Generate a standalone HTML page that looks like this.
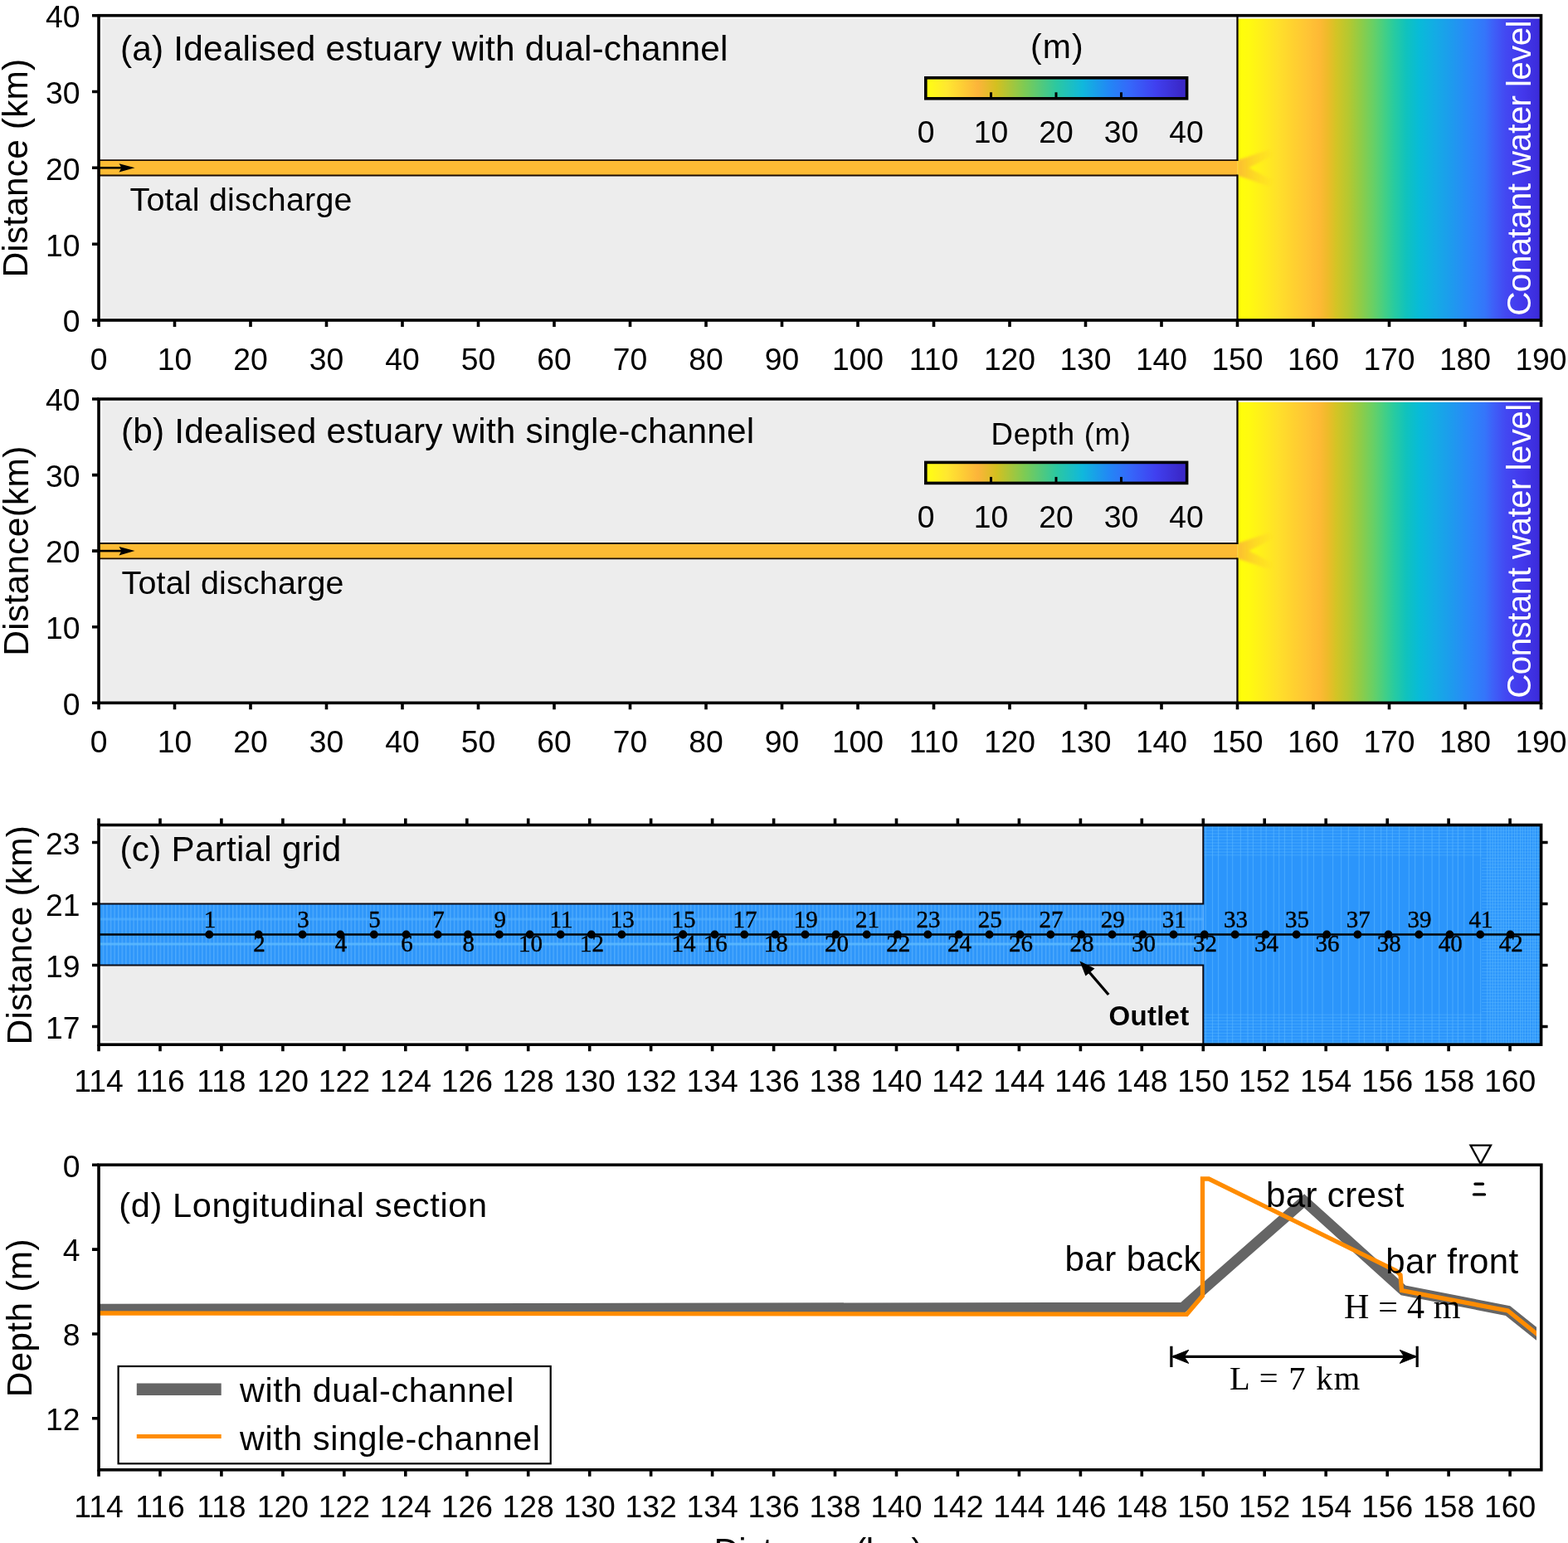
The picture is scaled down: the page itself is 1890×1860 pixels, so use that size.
<!DOCTYPE html><html><head><meta charset="utf-8"><title>Idealised estuary figure</title><style>html,body{margin:0;padding:0;background:#fff;overflow:hidden}svg{display:block}</style></head><body>
<svg width="1890" height="1860" viewBox="0 0 1890 1860">
<defs>
<linearGradient id="sea" x1="0" x2="1" y1="0" y2="0"><stop offset="0.000" stop-color="#ffff08"/><stop offset="0.040" stop-color="#fffa10"/><stop offset="0.134" stop-color="#ffe02a"/><stop offset="0.188" stop-color="#ffd030"/><stop offset="0.229" stop-color="#ffc535"/><stop offset="0.270" stop-color="#feb935"/><stop offset="0.297" stop-color="#eebb2a"/><stop offset="0.325" stop-color="#d4c425"/><stop offset="0.366" stop-color="#b5c830"/><stop offset="0.407" stop-color="#8ecc48"/><stop offset="0.447" stop-color="#68d065"/><stop offset="0.488" stop-color="#40cf88"/><stop offset="0.516" stop-color="#28cba0"/><stop offset="0.557" stop-color="#10c2be"/><stop offset="0.598" stop-color="#08bbd8"/><stop offset="0.652" stop-color="#14abe5"/><stop offset="0.707" stop-color="#1e9aee"/><stop offset="0.761" stop-color="#2a88f8"/><stop offset="0.816" stop-color="#3575fa"/><stop offset="0.843" stop-color="#3e60f8"/><stop offset="0.884" stop-color="#4348f2"/><stop offset="0.939" stop-color="#4338ec"/><stop offset="1.000" stop-color="#3a2ad8"/></linearGradient>
<linearGradient id="cmap" x1="0" x2="1" y1="0" y2="0"><stop offset="0.000" stop-color="#ffff10"/><stop offset="0.080" stop-color="#ffe830"/><stop offset="0.200" stop-color="#fcb43a"/><stop offset="0.270" stop-color="#d4c020"/><stop offset="0.380" stop-color="#7ccb55"/><stop offset="0.500" stop-color="#2cc8a0"/><stop offset="0.600" stop-color="#10b8dc"/><stop offset="0.700" stop-color="#2288f5"/><stop offset="0.780" stop-color="#3568fa"/><stop offset="0.880" stop-color="#4040f0"/><stop offset="0.980" stop-color="#3a28c8"/><stop offset="1.000" stop-color="#3a28c8"/></linearGradient>
<linearGradient id="jet" x1="0" x2="1" y1="0" y2="0">
<stop offset="0" stop-color="#fbb836" stop-opacity="0.95"/><stop offset="1" stop-color="#fcc030" stop-opacity="0"/>
</linearGradient>
<filter id="blur2" x="-20%" y="-20%" width="140%" height="140%"><feGaussianBlur stdDeviation="1.6"/></filter>
<pattern id="gridch" patternUnits="userSpaceOnUse" width="4.6" height="74" x="119" y="1089.5">
<rect width="4.6" height="74" fill="#2e96fa"/>
<rect width="1.4" height="74" fill="#4eaafc"/>
<rect y="17" width="4.6" height="3" fill="#55b2ff" opacity="0.6"/>
<rect y="47" width="4.6" height="3" fill="#5cbaff" opacity="0.8"/>
</pattern>
<pattern id="gridsea" patternUnits="userSpaceOnUse" width="23" height="20" x="1450" y="994.5">
<rect width="23" height="20" fill="#2a94fb"/>
<rect width="1.6" height="20" fill="#4aaafc" opacity="0.7"/>
<rect x="11" width="1.2" height="20" fill="#45a5fc" opacity="0.5"/>
<rect y="8" width="23" height="1.2" fill="#50acff" opacity="0.5"/>
</pattern>
</defs>
<rect width="1890" height="1860" fill="#fff"/>
<rect x="123.3" y="22.5" width="1368.2" height="363.5" fill="#ededed"/>
<rect x="1491.5" y="22.5" width="366.0" height="363.5" fill="url(#sea)"/>
<path d="M1491.5,193.2 L1529.5,180.3 L1535.5,186.7 L1505.5,202.3 L1535.5,218.0 L1529.5,224.4 L1491.5,211.5 Z" fill="url(#jet)" filter="url(#blur2)"/>
<rect x="119" y="193.2" width="1372.5" height="18.4" fill="#fdbb34"/>
<path d="M119,193.2 H1491.5 M119,211.5 H1491.5" stroke="#1a0d05" stroke-width="1.8" fill="none"/>
<path d="M1491.5,194.1 V18.7 M1491.5,210.6 V386.0" stroke="#100808" stroke-width="2.3" fill="none"/>
<path d="M119,202.3 H150" stroke="#000" stroke-width="2.6"/>
<path d="M162.5,202.3 L143.5,197.2 L146.5,202.3 L143.5,207.5 Z" fill="#000"/>
<text x="145.00" y="72.50" font-size="42.4" font-family="'Liberation Sans', Arial, sans-serif" font-weight="normal" fill="#000" textLength="732.37" lengthAdjust="spacing">(a) Idealised estuary with dual-channel</text>
<text x="156.50" y="253.90" font-size="39.4" font-family="'Liberation Sans', Arial, sans-serif" font-weight="normal" fill="#000" textLength="267.95" lengthAdjust="spacing">Total discharge</text>
<rect x="1115.8" y="93.8" width="314.8" height="25.0" fill="url(#cmap)" stroke="#000" stroke-width="3.6"/>
<text x="1116.0" y="172.0" font-size="37.3" text-anchor="middle" font-family="'Liberation Sans', Arial, sans-serif" fill="#000" font-weight="normal" >0</text>
<path d="M1194.5,118.8 v-7.5" stroke="#000" stroke-width="3"/>
<text x="1194.5" y="172.0" font-size="37.3" text-anchor="middle" font-family="'Liberation Sans', Arial, sans-serif" fill="#000" font-weight="normal" >10</text>
<path d="M1273.0,118.8 v-7.5" stroke="#000" stroke-width="3"/>
<text x="1273.0" y="172.0" font-size="37.3" text-anchor="middle" font-family="'Liberation Sans', Arial, sans-serif" fill="#000" font-weight="normal" >20</text>
<path d="M1351.5,118.8 v-7.5" stroke="#000" stroke-width="3"/>
<text x="1351.5" y="172.0" font-size="37.3" text-anchor="middle" font-family="'Liberation Sans', Arial, sans-serif" fill="#000" font-weight="normal" >30</text>
<text x="1430.0" y="172.0" font-size="37.3" text-anchor="middle" font-family="'Liberation Sans', Arial, sans-serif" fill="#000" font-weight="normal" >40</text>
<text x="1242.00" y="69.50" font-size="41" font-family="'Liberation Sans', Arial, sans-serif" font-weight="normal" fill="#000" textLength="63.77" lengthAdjust="spacing">(m)</text>
<text transform="translate(1845.30,380.70) rotate(-90)" x="0" y="0" font-size="40.5" font-family="'Liberation Sans', Arial, sans-serif" font-weight="normal" fill="#fff" textLength="356.22" lengthAdjust="spacing">Conatant water level</text>
<rect x="119" y="18.7" width="1738.5" height="367.3" fill="none" stroke="#000" stroke-width="3.6"/>
<path d="M119,386.0 h-8 M119,294.2 h-8 M119,202.3 h-8 M119,110.5 h-8 M119,18.7 h-8 M119.0,386.0 v8 M210.5,386.0 v8 M302.0,386.0 v8 M393.5,386.0 v8 M485.0,386.0 v8 M576.5,386.0 v8 M668.0,386.0 v8 M759.5,386.0 v8 M851.0,386.0 v8 M942.5,386.0 v8 M1034.0,386.0 v8 M1125.5,386.0 v8 M1217.0,386.0 v8 M1308.5,386.0 v8 M1400.0,386.0 v8 M1491.5,386.0 v8 M1583.0,386.0 v8 M1674.5,386.0 v8 M1766.0,386.0 v8 M1857.5,386.0 v8 " stroke="#000" stroke-width="3.6"/>
<text x="96.5" y="400.3" font-size="37.3" text-anchor="end" font-family="'Liberation Sans', Arial, sans-serif" fill="#000" font-weight="normal" >0</text>
<text x="96.5" y="308.5" font-size="37.3" text-anchor="end" font-family="'Liberation Sans', Arial, sans-serif" fill="#000" font-weight="normal" >10</text>
<text x="96.5" y="216.7" font-size="37.3" text-anchor="end" font-family="'Liberation Sans', Arial, sans-serif" fill="#000" font-weight="normal" >20</text>
<text x="96.5" y="124.8" font-size="37.3" text-anchor="end" font-family="'Liberation Sans', Arial, sans-serif" fill="#000" font-weight="normal" >30</text>
<text x="96.5" y="33.0" font-size="37.3" text-anchor="end" font-family="'Liberation Sans', Arial, sans-serif" fill="#000" font-weight="normal" >40</text>
<text x="119.0" y="446.0" font-size="37.3" text-anchor="middle" font-family="'Liberation Sans', Arial, sans-serif" fill="#000" font-weight="normal" >0</text>
<text x="210.5" y="446.0" font-size="37.3" text-anchor="middle" font-family="'Liberation Sans', Arial, sans-serif" fill="#000" font-weight="normal" >10</text>
<text x="302.0" y="446.0" font-size="37.3" text-anchor="middle" font-family="'Liberation Sans', Arial, sans-serif" fill="#000" font-weight="normal" >20</text>
<text x="393.5" y="446.0" font-size="37.3" text-anchor="middle" font-family="'Liberation Sans', Arial, sans-serif" fill="#000" font-weight="normal" >30</text>
<text x="485.0" y="446.0" font-size="37.3" text-anchor="middle" font-family="'Liberation Sans', Arial, sans-serif" fill="#000" font-weight="normal" >40</text>
<text x="576.5" y="446.0" font-size="37.3" text-anchor="middle" font-family="'Liberation Sans', Arial, sans-serif" fill="#000" font-weight="normal" >50</text>
<text x="668.0" y="446.0" font-size="37.3" text-anchor="middle" font-family="'Liberation Sans', Arial, sans-serif" fill="#000" font-weight="normal" >60</text>
<text x="759.5" y="446.0" font-size="37.3" text-anchor="middle" font-family="'Liberation Sans', Arial, sans-serif" fill="#000" font-weight="normal" >70</text>
<text x="851.0" y="446.0" font-size="37.3" text-anchor="middle" font-family="'Liberation Sans', Arial, sans-serif" fill="#000" font-weight="normal" >80</text>
<text x="942.5" y="446.0" font-size="37.3" text-anchor="middle" font-family="'Liberation Sans', Arial, sans-serif" fill="#000" font-weight="normal" >90</text>
<text x="1034.0" y="446.0" font-size="37.3" text-anchor="middle" font-family="'Liberation Sans', Arial, sans-serif" fill="#000" font-weight="normal" >100</text>
<text x="1125.5" y="446.0" font-size="37.3" text-anchor="middle" font-family="'Liberation Sans', Arial, sans-serif" fill="#000" font-weight="normal" >110</text>
<text x="1217.0" y="446.0" font-size="37.3" text-anchor="middle" font-family="'Liberation Sans', Arial, sans-serif" fill="#000" font-weight="normal" >120</text>
<text x="1308.5" y="446.0" font-size="37.3" text-anchor="middle" font-family="'Liberation Sans', Arial, sans-serif" fill="#000" font-weight="normal" >130</text>
<text x="1400.0" y="446.0" font-size="37.3" text-anchor="middle" font-family="'Liberation Sans', Arial, sans-serif" fill="#000" font-weight="normal" >140</text>
<text x="1491.5" y="446.0" font-size="37.3" text-anchor="middle" font-family="'Liberation Sans', Arial, sans-serif" fill="#000" font-weight="normal" >150</text>
<text x="1583.0" y="446.0" font-size="37.3" text-anchor="middle" font-family="'Liberation Sans', Arial, sans-serif" fill="#000" font-weight="normal" >160</text>
<text x="1674.5" y="446.0" font-size="37.3" text-anchor="middle" font-family="'Liberation Sans', Arial, sans-serif" fill="#000" font-weight="normal" >170</text>
<text x="1766.0" y="446.0" font-size="37.3" text-anchor="middle" font-family="'Liberation Sans', Arial, sans-serif" fill="#000" font-weight="normal" >180</text>
<text x="1857.5" y="446.0" font-size="37.3" text-anchor="middle" font-family="'Liberation Sans', Arial, sans-serif" fill="#000" font-weight="normal" >190</text>
<text transform="translate(33.00,334.50) rotate(-90)" x="0" y="0" font-size="42.5" font-family="'Liberation Sans', Arial, sans-serif" font-weight="normal" fill="#000" textLength="263.73" lengthAdjust="spacing">Distance (km)</text>
<rect x="123.3" y="484.8" width="1368.2" height="362.5" fill="#ededed"/>
<rect x="1491.5" y="484.8" width="366.0" height="362.5" fill="url(#sea)"/>
<path d="M1491.5,655.0 L1529.5,642.2 L1535.5,648.6 L1505.5,664.1 L1535.5,679.7 L1529.5,686.1 L1491.5,673.3 Z" fill="url(#jet)" filter="url(#blur2)"/>
<rect x="119" y="655.0" width="1372.5" height="18.3" fill="#fdbb34"/>
<path d="M119,655.0 H1491.5 M119,673.3 H1491.5" stroke="#1a0d05" stroke-width="1.8" fill="none"/>
<path d="M1491.5,655.9 V481.0 M1491.5,672.4 V847.3" stroke="#100808" stroke-width="2.3" fill="none"/>
<path d="M119,664.1 H150" stroke="#000" stroke-width="2.6"/>
<path d="M162.5,664.1 L143.5,658.9 L146.5,664.1 L143.5,669.4 Z" fill="#000"/>
<text x="146.00" y="534.40" font-size="42.4" font-family="'Liberation Sans', Arial, sans-serif" font-weight="normal" fill="#000" textLength="763.08" lengthAdjust="spacing">(b) Idealised estuary with single-channel</text>
<text x="146.50" y="716.00" font-size="39.4" font-family="'Liberation Sans', Arial, sans-serif" font-weight="normal" fill="#000" textLength="267.95" lengthAdjust="spacing">Total discharge</text>
<rect x="1115.8" y="557.4" width="314.8" height="25.0" fill="url(#cmap)" stroke="#000" stroke-width="3.6"/>
<text x="1116.0" y="635.6" font-size="37.3" text-anchor="middle" font-family="'Liberation Sans', Arial, sans-serif" fill="#000" font-weight="normal" >0</text>
<path d="M1194.5,582.4 v-7.5" stroke="#000" stroke-width="3"/>
<text x="1194.5" y="635.6" font-size="37.3" text-anchor="middle" font-family="'Liberation Sans', Arial, sans-serif" fill="#000" font-weight="normal" >10</text>
<path d="M1273.0,582.4 v-7.5" stroke="#000" stroke-width="3"/>
<text x="1273.0" y="635.6" font-size="37.3" text-anchor="middle" font-family="'Liberation Sans', Arial, sans-serif" fill="#000" font-weight="normal" >20</text>
<path d="M1351.5,582.4 v-7.5" stroke="#000" stroke-width="3"/>
<text x="1351.5" y="635.6" font-size="37.3" text-anchor="middle" font-family="'Liberation Sans', Arial, sans-serif" fill="#000" font-weight="normal" >30</text>
<text x="1430.0" y="635.6" font-size="37.3" text-anchor="middle" font-family="'Liberation Sans', Arial, sans-serif" fill="#000" font-weight="normal" >40</text>
<text x="1194.50" y="535.50" font-size="36.6" font-family="'Liberation Sans', Arial, sans-serif" font-weight="normal" fill="#000" textLength="168.51" lengthAdjust="spacing">Depth (m)</text>
<text transform="translate(1845.30,841.80) rotate(-90)" x="0" y="0" font-size="40.5" font-family="'Liberation Sans', Arial, sans-serif" font-weight="normal" fill="#fff" textLength="355.04" lengthAdjust="spacing">Constant water level</text>
<rect x="119" y="481.0" width="1738.5" height="366.3" fill="none" stroke="#000" stroke-width="3.6"/>
<path d="M119,847.3 h-8 M119,755.7 h-8 M119,664.1 h-8 M119,572.6 h-8 M119,481.0 h-8 M119.0,847.3 v8 M210.5,847.3 v8 M302.0,847.3 v8 M393.5,847.3 v8 M485.0,847.3 v8 M576.5,847.3 v8 M668.0,847.3 v8 M759.5,847.3 v8 M851.0,847.3 v8 M942.5,847.3 v8 M1034.0,847.3 v8 M1125.5,847.3 v8 M1217.0,847.3 v8 M1308.5,847.3 v8 M1400.0,847.3 v8 M1491.5,847.3 v8 M1583.0,847.3 v8 M1674.5,847.3 v8 M1766.0,847.3 v8 M1857.5,847.3 v8 " stroke="#000" stroke-width="3.6"/>
<text x="96.5" y="861.6" font-size="37.3" text-anchor="end" font-family="'Liberation Sans', Arial, sans-serif" fill="#000" font-weight="normal" >0</text>
<text x="96.5" y="770.0" font-size="37.3" text-anchor="end" font-family="'Liberation Sans', Arial, sans-serif" fill="#000" font-weight="normal" >10</text>
<text x="96.5" y="678.4" font-size="37.3" text-anchor="end" font-family="'Liberation Sans', Arial, sans-serif" fill="#000" font-weight="normal" >20</text>
<text x="96.5" y="586.9" font-size="37.3" text-anchor="end" font-family="'Liberation Sans', Arial, sans-serif" fill="#000" font-weight="normal" >30</text>
<text x="96.5" y="495.3" font-size="37.3" text-anchor="end" font-family="'Liberation Sans', Arial, sans-serif" fill="#000" font-weight="normal" >40</text>
<text x="119.0" y="907.3" font-size="37.3" text-anchor="middle" font-family="'Liberation Sans', Arial, sans-serif" fill="#000" font-weight="normal" >0</text>
<text x="210.5" y="907.3" font-size="37.3" text-anchor="middle" font-family="'Liberation Sans', Arial, sans-serif" fill="#000" font-weight="normal" >10</text>
<text x="302.0" y="907.3" font-size="37.3" text-anchor="middle" font-family="'Liberation Sans', Arial, sans-serif" fill="#000" font-weight="normal" >20</text>
<text x="393.5" y="907.3" font-size="37.3" text-anchor="middle" font-family="'Liberation Sans', Arial, sans-serif" fill="#000" font-weight="normal" >30</text>
<text x="485.0" y="907.3" font-size="37.3" text-anchor="middle" font-family="'Liberation Sans', Arial, sans-serif" fill="#000" font-weight="normal" >40</text>
<text x="576.5" y="907.3" font-size="37.3" text-anchor="middle" font-family="'Liberation Sans', Arial, sans-serif" fill="#000" font-weight="normal" >50</text>
<text x="668.0" y="907.3" font-size="37.3" text-anchor="middle" font-family="'Liberation Sans', Arial, sans-serif" fill="#000" font-weight="normal" >60</text>
<text x="759.5" y="907.3" font-size="37.3" text-anchor="middle" font-family="'Liberation Sans', Arial, sans-serif" fill="#000" font-weight="normal" >70</text>
<text x="851.0" y="907.3" font-size="37.3" text-anchor="middle" font-family="'Liberation Sans', Arial, sans-serif" fill="#000" font-weight="normal" >80</text>
<text x="942.5" y="907.3" font-size="37.3" text-anchor="middle" font-family="'Liberation Sans', Arial, sans-serif" fill="#000" font-weight="normal" >90</text>
<text x="1034.0" y="907.3" font-size="37.3" text-anchor="middle" font-family="'Liberation Sans', Arial, sans-serif" fill="#000" font-weight="normal" >100</text>
<text x="1125.5" y="907.3" font-size="37.3" text-anchor="middle" font-family="'Liberation Sans', Arial, sans-serif" fill="#000" font-weight="normal" >110</text>
<text x="1217.0" y="907.3" font-size="37.3" text-anchor="middle" font-family="'Liberation Sans', Arial, sans-serif" fill="#000" font-weight="normal" >120</text>
<text x="1308.5" y="907.3" font-size="37.3" text-anchor="middle" font-family="'Liberation Sans', Arial, sans-serif" fill="#000" font-weight="normal" >130</text>
<text x="1400.0" y="907.3" font-size="37.3" text-anchor="middle" font-family="'Liberation Sans', Arial, sans-serif" fill="#000" font-weight="normal" >140</text>
<text x="1491.5" y="907.3" font-size="37.3" text-anchor="middle" font-family="'Liberation Sans', Arial, sans-serif" fill="#000" font-weight="normal" >150</text>
<text x="1583.0" y="907.3" font-size="37.3" text-anchor="middle" font-family="'Liberation Sans', Arial, sans-serif" fill="#000" font-weight="normal" >160</text>
<text x="1674.5" y="907.3" font-size="37.3" text-anchor="middle" font-family="'Liberation Sans', Arial, sans-serif" fill="#000" font-weight="normal" >170</text>
<text x="1766.0" y="907.3" font-size="37.3" text-anchor="middle" font-family="'Liberation Sans', Arial, sans-serif" fill="#000" font-weight="normal" >180</text>
<text x="1857.5" y="907.3" font-size="37.3" text-anchor="middle" font-family="'Liberation Sans', Arial, sans-serif" fill="#000" font-weight="normal" >190</text>
<text transform="translate(34.00,790.70) rotate(-90)" x="0" y="0" font-size="42.5" font-family="'Liberation Sans', Arial, sans-serif" font-weight="normal" fill="#000" textLength="253.11" lengthAdjust="spacing">Distance(km)</text>
<rect x="123.5" y="998.9" width="1326.8" height="256.3" fill="#ededed"/>
<rect x="1450.3" y="994.5" width="407.3" height="264.70000000000005" fill="#2b95fb"/>
<path d="M1453.3,994.5 V1259.2 M1461.5,994.5 V1259.2 M1468.6,994.5 V1259.2 M1479.2,994.5 V1259.2 M1485.7,994.5 V1259.2 M1495.4,994.5 V1259.2 M1504.0,994.5 V1259.2 M1510.4,994.5 V1259.2 M1519.9,994.5 V1259.2 M1526.2,994.5 V1259.2 M1535.2,994.5 V1259.2 M1541.7,994.5 V1259.2 M1548.4,994.5 V1259.2 M1557.3,994.5 V1259.2 M1569.1,994.5 V1259.2 M1576.0,994.5 V1259.2 M1583.5,994.5 V1259.2 M1593.9,994.5 V1259.2 M1606.6,994.5 V1259.2 M1616.6,994.5 V1259.2 M1625.4,994.5 V1259.2 M1638.2,994.5 V1259.2 M1644.5,994.5 V1259.2 M1656.6,994.5 V1259.2 M1664.6,994.5 V1259.2 M1671.6,994.5 V1259.2 M1678.4,994.5 V1259.2 M1686.6,994.5 V1259.2 M1698.3,994.5 V1259.2 M1705.6,994.5 V1259.2 M1715.6,994.5 V1259.2 M1726.1,994.5 V1259.2 M1734.7,994.5 V1259.2 M1744.5,994.5 V1259.2 M1751.0,994.5 V1259.2 M1757.4,994.5 V1259.2 M1764.8,994.5 V1259.2 M1775.6,994.5 V1259.2 M1784.6,994.5 V1259.2 M1792.8,994.5 V1259.2 M1796.1,994.5 V1259.2 M1799.2,994.5 V1259.2 M1802.2,994.5 V1259.2 M1805.8,994.5 V1259.2 M1809.2,994.5 V1259.2 M1812.1,994.5 V1259.2 M1815.4,994.5 V1259.2 M1818.6,994.5 V1259.2 M1822.3,994.5 V1259.2 M1825.7,994.5 V1259.2 M1828.7,994.5 V1259.2 M1832.5,994.5 V1259.2 M1835.2,994.5 V1259.2 M1838.3,994.5 V1259.2 M1841.8,994.5 V1259.2 M1844.6,994.5 V1259.2 M1847.8,994.5 V1259.2 M1850.4,994.5 V1259.2 M1853.8,994.5 V1259.2 " stroke="#5cb8ff" stroke-width="1.1" opacity="0.55"/>
<path d="M1450.3,997.5 H1857.6 M1450.3,1001.2 H1857.6 M1450.3,1004.9 H1857.6 M1450.3,1008.6 H1857.6 M1450.3,1012.3 H1857.6 M1450.3,1016.0 H1857.6 M1450.3,1019.7 H1857.6 M1450.3,1023.4 H1857.6 M1450.3,1027.1 H1857.6 M1450.3,1030.8 H1857.6 M1786,1034.5 H1857.6 M1786,1038.2 H1857.6 M1786,1041.9 H1857.6 M1786,1045.6 H1857.6 M1786,1049.3 H1857.6 M1786,1053.0 H1857.6 M1786,1056.7 H1857.6 M1786,1060.4 H1857.6 M1786,1064.1 H1857.6 M1786,1067.8 H1857.6 M1786,1071.5 H1857.6 M1786,1075.2 H1857.6 M1786,1078.9 H1857.6 M1786,1082.6 H1857.6 M1786,1086.3 H1857.6 M1786,1090.0 H1857.6 M1786,1093.7 H1857.6 M1786,1097.4 H1857.6 M1786,1101.1 H1857.6 M1786,1104.8 H1857.6 M1786,1108.5 H1857.6 M1786,1112.2 H1857.6 M1786,1115.9 H1857.6 M1786,1119.6 H1857.6 M1786,1123.3 H1857.6 M1786,1127.0 H1857.6 M1786,1130.7 H1857.6 M1786,1134.4 H1857.6 M1786,1138.1 H1857.6 M1786,1141.8 H1857.6 M1786,1145.5 H1857.6 M1786,1149.2 H1857.6 M1786,1152.9 H1857.6 M1786,1156.6 H1857.6 M1786,1160.3 H1857.6 M1786,1164.0 H1857.6 M1786,1167.7 H1857.6 M1786,1171.4 H1857.6 M1786,1175.1 H1857.6 M1786,1178.8 H1857.6 M1786,1182.5 H1857.6 M1786,1186.2 H1857.6 M1786,1189.9 H1857.6 M1786,1193.6 H1857.6 M1786,1197.3 H1857.6 M1786,1201.0 H1857.6 M1786,1204.7 H1857.6 M1786,1208.4 H1857.6 M1786,1212.1 H1857.6 M1786,1215.8 H1857.6 M1786,1219.5 H1857.6 M1450.3,1223.2 H1857.6 M1450.3,1226.9 H1857.6 M1450.3,1230.6 H1857.6 M1450.3,1234.3 H1857.6 M1450.3,1238.0 H1857.6 M1450.3,1241.7 H1857.6 M1450.3,1245.4 H1857.6 M1450.3,1249.1 H1857.6 M1450.3,1252.8 H1857.6 M1450.3,1256.5 H1857.6 " stroke="#60bcff" stroke-width="1" opacity="0.45"/>
<rect x="119" y="1089.5" width="1331.3" height="74.0" fill="url(#gridch)"/>
<path d="M119,1089.5 H1450.3 V994.5 M119,1163.5 H1450.3 V1259.2" stroke="#0a0a14" stroke-width="2" fill="none"/>
<path d="M119,1126.5 H1857.6" stroke="#000" stroke-width="2.6"/>
<g fill="#000"><circle cx="252.2" cy="1126.5" r="4.9"/><circle cx="311.7" cy="1126.5" r="4.9"/><circle cx="364.6" cy="1126.5" r="4.9"/><circle cx="410.2" cy="1126.5" r="4.9"/><circle cx="450.8" cy="1126.5" r="4.9"/><circle cx="489.6" cy="1126.5" r="4.9"/><circle cx="527.6" cy="1126.5" r="4.9"/><circle cx="564.0" cy="1126.5" r="4.9"/><circle cx="601.9" cy="1126.5" r="4.9"/><circle cx="638.6" cy="1126.5" r="4.9"/><circle cx="675.7" cy="1126.5" r="4.9"/><circle cx="712.8" cy="1126.5" r="4.9"/><circle cx="749.4" cy="1126.5" r="4.9"/><circle cx="823.2" cy="1126.5" r="4.9"/><circle cx="823.2" cy="1126.5" r="4.9"/><circle cx="861.5" cy="1126.5" r="4.9"/><circle cx="897.2" cy="1126.5" r="4.9"/><circle cx="934.4" cy="1126.5" r="4.9"/><circle cx="970.5" cy="1126.5" r="4.9"/><circle cx="1007.6" cy="1126.5" r="4.9"/><circle cx="1044.7" cy="1126.5" r="4.9"/><circle cx="1081.9" cy="1126.5" r="4.9"/><circle cx="1118.3" cy="1126.5" r="4.9"/><circle cx="1155.8" cy="1126.5" r="4.9"/><circle cx="1192.5" cy="1126.5" r="4.9"/><circle cx="1229.6" cy="1126.5" r="4.9"/><circle cx="1266.3" cy="1126.5" r="4.9"/><circle cx="1303.3" cy="1126.5" r="4.9"/><circle cx="1340.5" cy="1126.5" r="4.9"/><circle cx="1377.6" cy="1126.5" r="4.9"/><circle cx="1414.5" cy="1126.5" r="4.9"/><circle cx="1451.8" cy="1126.5" r="4.9"/><circle cx="1488.7" cy="1126.5" r="4.9"/><circle cx="1525.7" cy="1126.5" r="4.9"/><circle cx="1562.6" cy="1126.5" r="4.9"/><circle cx="1599.2" cy="1126.5" r="4.9"/><circle cx="1636.4" cy="1126.5" r="4.9"/><circle cx="1673.5" cy="1126.5" r="4.9"/><circle cx="1710.3" cy="1126.5" r="4.9"/><circle cx="1747.4" cy="1126.5" r="4.9"/><circle cx="1784.2" cy="1126.5" r="4.9"/><circle cx="1820.5" cy="1126.5" r="4.9"/></g>
<g font-size="29" text-anchor="middle" font-family="'Liberation Serif', 'Times New Roman', serif" fill="#000" stroke="#000" stroke-width="0.4"><text x="253.0" y="1118">1</text><text x="312.5" y="1147">2</text><text x="365.4" y="1118">3</text><text x="411.0" y="1147">4</text><text x="451.6" y="1118">5</text><text x="490.4" y="1147">6</text><text x="528.4" y="1118">7</text><text x="564.8" y="1147">8</text><text x="602.7" y="1118">9</text><text x="639.4" y="1147">10</text><text x="676.5" y="1118">11</text><text x="713.6" y="1147">12</text><text x="750.2" y="1118">13</text><text x="824.0" y="1147">14</text><text x="824.0" y="1118">15</text><text x="862.3" y="1147">16</text><text x="898.0" y="1118">17</text><text x="935.2" y="1147">18</text><text x="971.3" y="1118">19</text><text x="1008.4" y="1147">20</text><text x="1045.5" y="1118">21</text><text x="1082.7" y="1147">22</text><text x="1119.1" y="1118">23</text><text x="1156.6" y="1147">24</text><text x="1193.3" y="1118">25</text><text x="1230.4" y="1147">26</text><text x="1267.1" y="1118">27</text><text x="1304.1" y="1147">28</text><text x="1341.3" y="1118">29</text><text x="1378.4" y="1147">30</text><text x="1415.3" y="1118">31</text><text x="1452.6" y="1147">32</text><text x="1489.5" y="1118">33</text><text x="1526.5" y="1147">34</text><text x="1563.4" y="1118">35</text><text x="1600.0" y="1147">36</text><text x="1637.2" y="1118">37</text><text x="1674.3" y="1147">38</text><text x="1711.1" y="1118">39</text><text x="1748.2" y="1147">40</text><text x="1785.0" y="1118">41</text><text x="1821.3" y="1147">42</text></g>
<text x="144.50" y="1038.10" font-size="42.2" font-family="'Liberation Sans', Arial, sans-serif" font-weight="normal" fill="#000" textLength="266.66" lengthAdjust="spacing">(c) Partial grid</text>
<path d="M1336.2,1199 L1310,1168.5" stroke="#000" stroke-width="3.4"/>
<path d="M1301.4,1158.6 L1319.5,1167.5 L1308.5,1176.5 Z" fill="#000"/>
<text x="1336.60" y="1235.70" font-size="33" font-family="'Liberation Sans', Arial, sans-serif" font-weight="bold" fill="#000" textLength="96.63" lengthAdjust="spacing">Outlet</text>
<rect x="119" y="994.5" width="1738.6" height="264.70000000000005" fill="none" stroke="#000" stroke-width="3.6"/>
<path d="M119,1237.5 h-8 M1857.6,1237.5 h8 M119,1163.5 h-8 M1857.6,1163.5 h8 M119,1089.5 h-8 M1857.6,1089.5 h8 M119,1015.5 h-8 M1857.6,1015.5 h8 M119.0,1259.2 v8 M119.0,994.5 v-8 M193.0,1259.2 v8 M193.0,994.5 v-8 M266.9,1259.2 v8 M266.9,994.5 v-8 M340.9,1259.2 v8 M340.9,994.5 v-8 M414.8,1259.2 v8 M414.8,994.5 v-8 M488.8,1259.2 v8 M488.8,994.5 v-8 M562.8,1259.2 v8 M562.8,994.5 v-8 M636.7,1259.2 v8 M636.7,994.5 v-8 M710.7,1259.2 v8 M710.7,994.5 v-8 M784.6,1259.2 v8 M784.6,994.5 v-8 M858.6,1259.2 v8 M858.6,994.5 v-8 M932.6,1259.2 v8 M932.6,994.5 v-8 M1006.5,1259.2 v8 M1006.5,994.5 v-8 M1080.5,1259.2 v8 M1080.5,994.5 v-8 M1154.4,1259.2 v8 M1154.4,994.5 v-8 M1228.4,1259.2 v8 M1228.4,994.5 v-8 M1302.4,1259.2 v8 M1302.4,994.5 v-8 M1376.3,1259.2 v8 M1376.3,994.5 v-8 M1450.3,1259.2 v8 M1450.3,994.5 v-8 M1524.2,1259.2 v8 M1524.2,994.5 v-8 M1598.2,1259.2 v8 M1598.2,994.5 v-8 M1672.2,1259.2 v8 M1672.2,994.5 v-8 M1746.1,1259.2 v8 M1746.1,994.5 v-8 M1820.1,1259.2 v8 M1820.1,994.5 v-8 " stroke="#000" stroke-width="3.6"/>
<text x="96.5" y="1251.8" font-size="37.3" text-anchor="end" font-family="'Liberation Sans', Arial, sans-serif" fill="#000" font-weight="normal" >17</text>
<text x="96.5" y="1177.8" font-size="37.3" text-anchor="end" font-family="'Liberation Sans', Arial, sans-serif" fill="#000" font-weight="normal" >19</text>
<text x="96.5" y="1103.8" font-size="37.3" text-anchor="end" font-family="'Liberation Sans', Arial, sans-serif" fill="#000" font-weight="normal" >21</text>
<text x="96.5" y="1029.8" font-size="37.3" text-anchor="end" font-family="'Liberation Sans', Arial, sans-serif" fill="#000" font-weight="normal" >23</text>
<text x="119.0" y="1315.5" font-size="37.3" text-anchor="middle" font-family="'Liberation Sans', Arial, sans-serif" fill="#000" font-weight="normal" >114</text>
<text x="193.0" y="1315.5" font-size="37.3" text-anchor="middle" font-family="'Liberation Sans', Arial, sans-serif" fill="#000" font-weight="normal" >116</text>
<text x="266.9" y="1315.5" font-size="37.3" text-anchor="middle" font-family="'Liberation Sans', Arial, sans-serif" fill="#000" font-weight="normal" >118</text>
<text x="340.9" y="1315.5" font-size="37.3" text-anchor="middle" font-family="'Liberation Sans', Arial, sans-serif" fill="#000" font-weight="normal" >120</text>
<text x="414.8" y="1315.5" font-size="37.3" text-anchor="middle" font-family="'Liberation Sans', Arial, sans-serif" fill="#000" font-weight="normal" >122</text>
<text x="488.8" y="1315.5" font-size="37.3" text-anchor="middle" font-family="'Liberation Sans', Arial, sans-serif" fill="#000" font-weight="normal" >124</text>
<text x="562.8" y="1315.5" font-size="37.3" text-anchor="middle" font-family="'Liberation Sans', Arial, sans-serif" fill="#000" font-weight="normal" >126</text>
<text x="636.7" y="1315.5" font-size="37.3" text-anchor="middle" font-family="'Liberation Sans', Arial, sans-serif" fill="#000" font-weight="normal" >128</text>
<text x="710.7" y="1315.5" font-size="37.3" text-anchor="middle" font-family="'Liberation Sans', Arial, sans-serif" fill="#000" font-weight="normal" >130</text>
<text x="784.6" y="1315.5" font-size="37.3" text-anchor="middle" font-family="'Liberation Sans', Arial, sans-serif" fill="#000" font-weight="normal" >132</text>
<text x="858.6" y="1315.5" font-size="37.3" text-anchor="middle" font-family="'Liberation Sans', Arial, sans-serif" fill="#000" font-weight="normal" >134</text>
<text x="932.6" y="1315.5" font-size="37.3" text-anchor="middle" font-family="'Liberation Sans', Arial, sans-serif" fill="#000" font-weight="normal" >136</text>
<text x="1006.5" y="1315.5" font-size="37.3" text-anchor="middle" font-family="'Liberation Sans', Arial, sans-serif" fill="#000" font-weight="normal" >138</text>
<text x="1080.5" y="1315.5" font-size="37.3" text-anchor="middle" font-family="'Liberation Sans', Arial, sans-serif" fill="#000" font-weight="normal" >140</text>
<text x="1154.4" y="1315.5" font-size="37.3" text-anchor="middle" font-family="'Liberation Sans', Arial, sans-serif" fill="#000" font-weight="normal" >142</text>
<text x="1228.4" y="1315.5" font-size="37.3" text-anchor="middle" font-family="'Liberation Sans', Arial, sans-serif" fill="#000" font-weight="normal" >144</text>
<text x="1302.4" y="1315.5" font-size="37.3" text-anchor="middle" font-family="'Liberation Sans', Arial, sans-serif" fill="#000" font-weight="normal" >146</text>
<text x="1376.3" y="1315.5" font-size="37.3" text-anchor="middle" font-family="'Liberation Sans', Arial, sans-serif" fill="#000" font-weight="normal" >148</text>
<text x="1450.3" y="1315.5" font-size="37.3" text-anchor="middle" font-family="'Liberation Sans', Arial, sans-serif" fill="#000" font-weight="normal" >150</text>
<text x="1524.2" y="1315.5" font-size="37.3" text-anchor="middle" font-family="'Liberation Sans', Arial, sans-serif" fill="#000" font-weight="normal" >152</text>
<text x="1598.2" y="1315.5" font-size="37.3" text-anchor="middle" font-family="'Liberation Sans', Arial, sans-serif" fill="#000" font-weight="normal" >154</text>
<text x="1672.2" y="1315.5" font-size="37.3" text-anchor="middle" font-family="'Liberation Sans', Arial, sans-serif" fill="#000" font-weight="normal" >156</text>
<text x="1746.1" y="1315.5" font-size="37.3" text-anchor="middle" font-family="'Liberation Sans', Arial, sans-serif" fill="#000" font-weight="normal" >158</text>
<text x="1820.1" y="1315.5" font-size="37.3" text-anchor="middle" font-family="'Liberation Sans', Arial, sans-serif" fill="#000" font-weight="normal" >160</text>
<text transform="translate(37.50,1259.40) rotate(-90)" x="0" y="0" font-size="42.5" font-family="'Liberation Sans', Arial, sans-serif" font-weight="normal" fill="#000" textLength="264.43" lengthAdjust="spacing">Distance (km)</text>
<rect x="119" y="1404.2" width="1738.8" height="367.5999999999999" fill="#fff"/>
<clipPath id="dclip"><rect x="119" y="1400" width="1733" height="300"/></clipPath>
<g clip-path="url(#dclip)"><polyline points="120.0,1578.0 1426.0,1576.0 1449.0,1555.5 1572.0,1447.5 1691.5,1555.5 1817.5,1580.0 1862.0,1615.7" fill="none" stroke="#656565" stroke-width="12.5" stroke-linejoin="miter"/>
<polyline points="120.0,1583.0 1430.5,1584.3 1449.5,1562.0 1449.5,1421.0 1457.0,1421.0 1683.0,1532.0 1688.0,1537.0 1689.5,1555.5 1817.5,1580.0 1862.0,1615.7" fill="none" stroke="#ff8c00" stroke-width="5.3" stroke-linejoin="miter"/></g>
<text x="143.20" y="1466.80" font-size="41.5" font-family="'Liberation Sans', Arial, sans-serif" font-weight="normal" fill="#000" textLength="443.91" lengthAdjust="spacing">(d) Longitudinal section</text>
<text x="1283.60" y="1532.20" font-size="42" font-family="'Liberation Sans', Arial, sans-serif" font-weight="normal" fill="#000" textLength="163.99" lengthAdjust="spacing">bar back</text>
<text x="1526.00" y="1455.00" font-size="42" font-family="'Liberation Sans', Arial, sans-serif" font-weight="normal" fill="#000" textLength="166.39" lengthAdjust="spacing">bar crest</text>
<text x="1670.30" y="1535.00" font-size="42" font-family="'Liberation Sans', Arial, sans-serif" font-weight="normal" fill="#000" textLength="159.82" lengthAdjust="spacing">bar front</text>
<text x="1620.00" y="1589.20" font-size="42" font-family="'Liberation Serif', 'Times New Roman', serif" font-weight="normal" fill="#000" textLength="140.49" lengthAdjust="spacing">H = 4 m</text>
<text x="1482.00" y="1675.20" font-size="40.5" font-family="'Liberation Serif', 'Times New Roman', serif" font-weight="normal" fill="#000" textLength="157.17" lengthAdjust="spacing">L = 7 km</text>
<path d="M1411.9,1622.7 V1648.1 M1708.2,1622.7 V1648.1 M1414,1635.4 H1706" stroke="#000" stroke-width="3.2" fill="none"/>
<path d="M1413,1635.4 L1432.5,1627.5 L1427,1635.4 L1432.5,1643.3 Z M1707,1635.4 L1687.5,1627.5 L1693,1635.4 L1687.5,1643.3 Z" fill="#000" stroke="#000" stroke-width="1.2" stroke-linejoin="round"/>
<path d="M1772.5,1380.6 H1797 L1784.7,1403 Z" fill="none" stroke="#000" stroke-width="2.3" stroke-linejoin="miter"/>
<path d="M1778,1427.3 H1787.5 M1776.5,1439.9 H1789.5" stroke="#000" stroke-width="3.4" stroke-linecap="round"/>
<rect x="142.6" y="1647" width="521.1" height="117.3" fill="#fff" stroke="#000" stroke-width="2.2"/>
<path d="M164.8,1674.8 H266.7" stroke="#656565" stroke-width="14.5"/>
<path d="M164.8,1731.5 H266.7" stroke="#ff8c00" stroke-width="5"/>
<text x="289.00" y="1690.20" font-size="41.3" font-family="'Liberation Sans', Arial, sans-serif" font-weight="normal" fill="#000" textLength="330.51" lengthAdjust="spacing">with dual-channel</text>
<text x="289.00" y="1747.80" font-size="41.3" font-family="'Liberation Sans', Arial, sans-serif" font-weight="normal" fill="#000" textLength="362.03" lengthAdjust="spacing">with single-channel</text>
<rect x="119" y="1404.2" width="1738.8" height="367.6" fill="none" stroke="#000" stroke-width="3.6"/>
<path d="M119,1404.2 h-8 M119,1506.1 h-8 M119,1608.0 h-8 M119,1709.8 h-8 M119.0,1771.8 v8 M193.0,1771.8 v8 M266.9,1771.8 v8 M340.9,1771.8 v8 M414.8,1771.8 v8 M488.8,1771.8 v8 M562.8,1771.8 v8 M636.7,1771.8 v8 M710.7,1771.8 v8 M784.6,1771.8 v8 M858.6,1771.8 v8 M932.6,1771.8 v8 M1006.5,1771.8 v8 M1080.5,1771.8 v8 M1154.4,1771.8 v8 M1228.4,1771.8 v8 M1302.4,1771.8 v8 M1376.3,1771.8 v8 M1450.3,1771.8 v8 M1524.2,1771.8 v8 M1598.2,1771.8 v8 M1672.2,1771.8 v8 M1746.1,1771.8 v8 M1820.1,1771.8 v8 " stroke="#000" stroke-width="3.6"/>
<text x="96.5" y="1418.5" font-size="37.3" text-anchor="end" font-family="'Liberation Sans', Arial, sans-serif" fill="#000" font-weight="normal" >0</text>
<text x="96.5" y="1520.4" font-size="37.3" text-anchor="end" font-family="'Liberation Sans', Arial, sans-serif" fill="#000" font-weight="normal" >4</text>
<text x="96.5" y="1622.3" font-size="37.3" text-anchor="end" font-family="'Liberation Sans', Arial, sans-serif" fill="#000" font-weight="normal" >8</text>
<text x="96.5" y="1724.1" font-size="37.3" text-anchor="end" font-family="'Liberation Sans', Arial, sans-serif" fill="#000" font-weight="normal" >12</text>
<text x="119.0" y="1829.0" font-size="37.3" text-anchor="middle" font-family="'Liberation Sans', Arial, sans-serif" fill="#000" font-weight="normal" >114</text>
<text x="193.0" y="1829.0" font-size="37.3" text-anchor="middle" font-family="'Liberation Sans', Arial, sans-serif" fill="#000" font-weight="normal" >116</text>
<text x="266.9" y="1829.0" font-size="37.3" text-anchor="middle" font-family="'Liberation Sans', Arial, sans-serif" fill="#000" font-weight="normal" >118</text>
<text x="340.9" y="1829.0" font-size="37.3" text-anchor="middle" font-family="'Liberation Sans', Arial, sans-serif" fill="#000" font-weight="normal" >120</text>
<text x="414.8" y="1829.0" font-size="37.3" text-anchor="middle" font-family="'Liberation Sans', Arial, sans-serif" fill="#000" font-weight="normal" >122</text>
<text x="488.8" y="1829.0" font-size="37.3" text-anchor="middle" font-family="'Liberation Sans', Arial, sans-serif" fill="#000" font-weight="normal" >124</text>
<text x="562.8" y="1829.0" font-size="37.3" text-anchor="middle" font-family="'Liberation Sans', Arial, sans-serif" fill="#000" font-weight="normal" >126</text>
<text x="636.7" y="1829.0" font-size="37.3" text-anchor="middle" font-family="'Liberation Sans', Arial, sans-serif" fill="#000" font-weight="normal" >128</text>
<text x="710.7" y="1829.0" font-size="37.3" text-anchor="middle" font-family="'Liberation Sans', Arial, sans-serif" fill="#000" font-weight="normal" >130</text>
<text x="784.6" y="1829.0" font-size="37.3" text-anchor="middle" font-family="'Liberation Sans', Arial, sans-serif" fill="#000" font-weight="normal" >132</text>
<text x="858.6" y="1829.0" font-size="37.3" text-anchor="middle" font-family="'Liberation Sans', Arial, sans-serif" fill="#000" font-weight="normal" >134</text>
<text x="932.6" y="1829.0" font-size="37.3" text-anchor="middle" font-family="'Liberation Sans', Arial, sans-serif" fill="#000" font-weight="normal" >136</text>
<text x="1006.5" y="1829.0" font-size="37.3" text-anchor="middle" font-family="'Liberation Sans', Arial, sans-serif" fill="#000" font-weight="normal" >138</text>
<text x="1080.5" y="1829.0" font-size="37.3" text-anchor="middle" font-family="'Liberation Sans', Arial, sans-serif" fill="#000" font-weight="normal" >140</text>
<text x="1154.4" y="1829.0" font-size="37.3" text-anchor="middle" font-family="'Liberation Sans', Arial, sans-serif" fill="#000" font-weight="normal" >142</text>
<text x="1228.4" y="1829.0" font-size="37.3" text-anchor="middle" font-family="'Liberation Sans', Arial, sans-serif" fill="#000" font-weight="normal" >144</text>
<text x="1302.4" y="1829.0" font-size="37.3" text-anchor="middle" font-family="'Liberation Sans', Arial, sans-serif" fill="#000" font-weight="normal" >146</text>
<text x="1376.3" y="1829.0" font-size="37.3" text-anchor="middle" font-family="'Liberation Sans', Arial, sans-serif" fill="#000" font-weight="normal" >148</text>
<text x="1450.3" y="1829.0" font-size="37.3" text-anchor="middle" font-family="'Liberation Sans', Arial, sans-serif" fill="#000" font-weight="normal" >150</text>
<text x="1524.2" y="1829.0" font-size="37.3" text-anchor="middle" font-family="'Liberation Sans', Arial, sans-serif" fill="#000" font-weight="normal" >152</text>
<text x="1598.2" y="1829.0" font-size="37.3" text-anchor="middle" font-family="'Liberation Sans', Arial, sans-serif" fill="#000" font-weight="normal" >154</text>
<text x="1672.2" y="1829.0" font-size="37.3" text-anchor="middle" font-family="'Liberation Sans', Arial, sans-serif" fill="#000" font-weight="normal" >156</text>
<text x="1746.1" y="1829.0" font-size="37.3" text-anchor="middle" font-family="'Liberation Sans', Arial, sans-serif" fill="#000" font-weight="normal" >158</text>
<text x="1820.1" y="1829.0" font-size="37.3" text-anchor="middle" font-family="'Liberation Sans', Arial, sans-serif" fill="#000" font-weight="normal" >160</text>
<text transform="translate(37.50,1684.30) rotate(-90)" x="0" y="0" font-size="42.3" font-family="'Liberation Sans', Arial, sans-serif" font-weight="normal" fill="#000" textLength="190.83" lengthAdjust="spacing">Depth (m)</text>
<text x="860.50" y="1883.50" font-size="42" font-family="'Liberation Sans', Arial, sans-serif" font-weight="normal" fill="#000" textLength="252.05" lengthAdjust="spacing">Distance (km)</text>
</svg></body></html>
